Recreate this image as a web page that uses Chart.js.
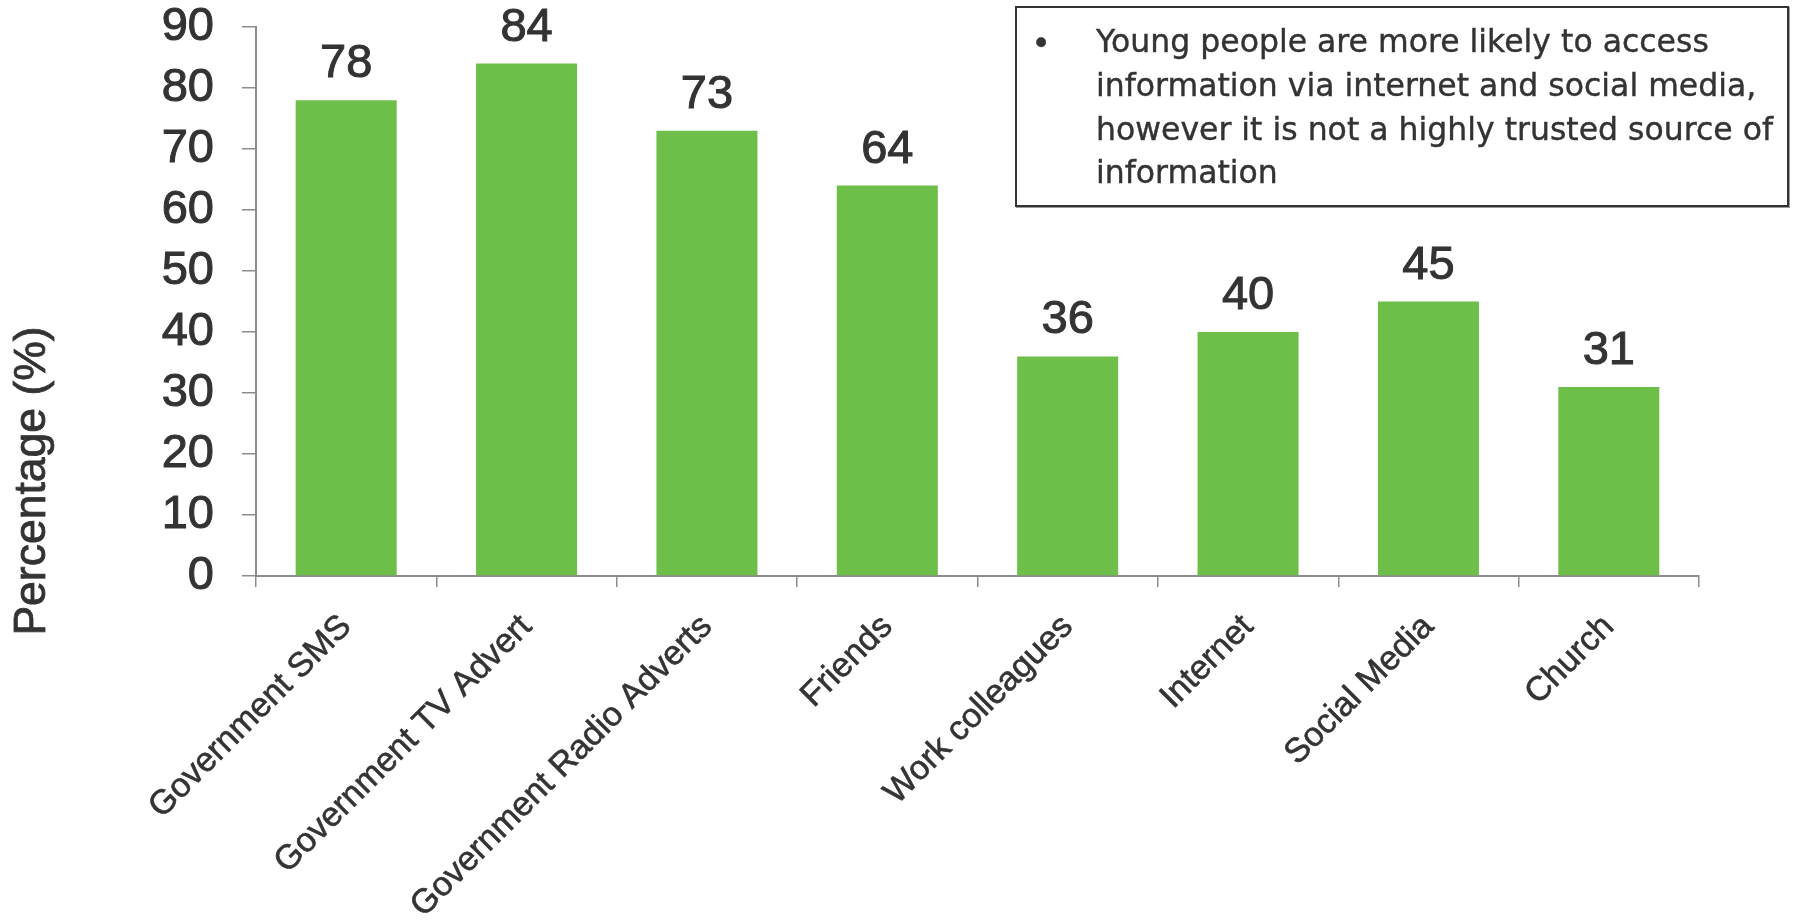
<!DOCTYPE html>
<html>
<head>
<meta charset="utf-8">
<script src="https://cdn.jsdelivr.net/npm/chart.js@4.4.0/dist/chart.umd.min.js"></script>
<style>
  html, body { margin: 0; padding: 0; background: #ffffff; }
  #wrap { position: relative; width: 1793px; height: 921px; overflow: hidden; }
  #c { position: absolute; left: 0; top: 0; }
  #note {
    position: absolute; left: 1015px; top: 6px; width: 774px; height: 201px;
    box-sizing: border-box; border: 2px solid #333333; background: #ffffff;
    box-shadow: 1px 1px 0 #9a9a9a;
    font-family: "DejaVu Sans", "Liberation Sans", Arial, sans-serif; font-size: 31.5px; line-height: 43.8px;
    color: #333333; padding: 12px 0 0 79px; white-space: nowrap;
    -webkit-text-stroke: 0.4px #333333;
  }
  #note .bullet { position: absolute; left: 18px; top: 12px; font-family: "Liberation Sans", Arial, sans-serif; font-size: 35px; }
</style>
</head>
<body>
<div id="wrap">
  <canvas id="c" width="1793" height="921"></canvas>
  <div id="note"><span class="bullet">•</span>Young people are more likely to access<br>information via internet and social media,<br>however it is not a highly trusted source of<br>information</div>
</div>
<script>
const categories = ["Government SMS", "Government TV Advert", "Government Radio Adverts", "Friends", "Work colleagues", "Internet", "Social Media", "Church"];
const values = [78, 84, 73, 64, 36, 40, 45, 31];
const yMin = 0;
const yMax = 90;
const yStep = 10;
const yTitle = "Percentage (%)";

const textColor = "#333333";
const axisColor = "#8c8c8c";
const barColor = "rgb(110,191,74)";
const fontFamily = '"Liberation Sans", Arial, sans-serif';

const valueLabels = {
  id: "valueLabels",
  afterDatasetsDraw(chart) {
    const ctx = chart.ctx;
    const meta = chart.getDatasetMeta(0);
    ctx.save();
    ctx.font = "47px " + fontFamily;
    ctx.fillStyle = textColor;
    ctx.strokeStyle = textColor;
    ctx.lineWidth = 1;
    ctx.textAlign = "center";
    ctx.textBaseline = "alphabetic";
    meta.data.forEach((bar, i) => {
      ctx.fillText(String(values[i]), bar.x, bar.y - 23);
      ctx.strokeText(String(values[i]), bar.x, bar.y - 23);
    });
    ctx.restore();
  }
};

const yAxisTitle = {
  id: "yAxisTitle",
  afterDraw(chart) {
    const ctx = chart.ctx;
    ctx.save();
    ctx.translate(45, 481);
    ctx.rotate(-Math.PI / 2);
    ctx.font = "44.5px " + fontFamily;
    ctx.fillStyle = textColor;
    ctx.strokeStyle = textColor;
    ctx.lineWidth = 0.8;
    ctx.textAlign = "center";
    ctx.textBaseline = "alphabetic";
    ctx.fillText(yTitle, 0, 0);
    ctx.strokeText(yTitle, 0, 0);
    ctx.restore();
  }
};

new Chart(document.getElementById("c"), {
  type: "bar",
  data: {
    labels: categories,
    datasets: [{
      data: values,
      backgroundColor: barColor,
      borderWidth: 0,
      categoryPercentage: 1.0,
      barPercentage: 0.56
    }]
  },
  options: {
    responsive: false,
    animation: false,
    layout: { padding: { top: 27, right: 94, bottom: 0, left: 0 } },
    plugins: { legend: { display: false }, tooltip: { enabled: false }, title: { display: false } },
    scales: {
      x: {
        offset: true,
        grid: { display: true, drawOnChartArea: false, drawTicks: true, tickLength: 11, color: axisColor, lineWidth: 1.5, offset: true },
        border: { display: true, color: axisColor, width: 2 },
        ticks: {
          autoSkip: false, minRotation: 45, maxRotation: 45, padding: 20,
          color: textColor, font: { family: fontFamily, size: 34 },
          textStrokeColor: textColor, textStrokeWidth: 0.6
        },
        afterFit(scale) { scale.height = 345; }
      },
      y: {
        min: yMin, max: yMax,
        grid: { display: true, drawOnChartArea: false, drawTicks: true, tickLength: 14, color: axisColor, lineWidth: 1.5 },
        border: { display: true, color: axisColor, width: 2 },
        ticks: {
          stepSize: yStep, padding: 28,
          color: textColor, font: { family: fontFamily, size: 47 },
          textStrokeColor: textColor, textStrokeWidth: 1
        },
        afterFit(scale) { scale.width = 256; scale.paddingTop = 0; scale.paddingBottom = 0; }
      }
    }
  },
  plugins: [valueLabels, yAxisTitle]
});
</script>
</body>
</html>
